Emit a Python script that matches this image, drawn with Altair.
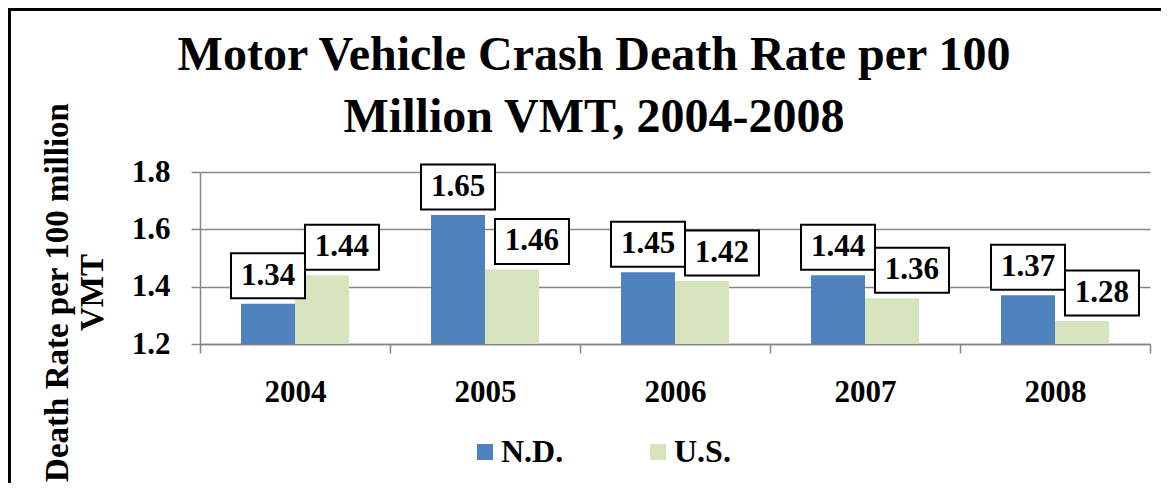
import altair as alt
import pandas as pd

# ---- data ----
years = ["2004", "2005", "2006", "2007", "2008"]
nd_values = [1.34, 1.65, 1.45, 1.44, 1.37]
us_values = [1.44, 1.46, 1.42, 1.36, 1.28]
series = ["N.D.", "U.S."]
colors = ["#4F81BD", "#D7E4BD"]
y_ticks = [1.2, 1.4, 1.6, 1.8]
y_domain = [1.2, 1.8]
title_lines = ["Motor Vehicle Crash Death Rate per 100", "Million VMT, 2004-2008"]
y_title_lines = ["Death Rate per 100 million", "VMT"]

rows = []
for i, yr in enumerate(years):
    rows.append({"year": yr, "series": series[0], "value": nd_values[i]})
    rows.append({"year": yr, "series": series[1], "value": us_values[i]})
df = pd.DataFrame(rows)

FONT = "Liberation Serif"
GRAY = "#868686"

# ---- style constants ----
W, H = 950, 172
BOX_W, BOX_H = 74, 45
LABEL_DY = -28


def box_path(dx_px):
    s = BOX_W / 2.0
    hx = 1.0
    hy = (BOX_H / 2.0) / s
    ox = dx_px / s
    return f"M{-hx+ox:.4f},{-hy:.4f}H{hx+ox:.4f}V{hy:.4f}H{-hx+ox:.4f}Z"


x_enc = alt.X(
    "year:N",
    sort=years,
    scale=alt.Scale(paddingInner=0, paddingOuter=0),
    axis=alt.Axis(
        title=None,
        labelAngle=0,
        tickBand="extent",
        tickSize=9,
        tickColor=GRAY,
        domainColor=GRAY,
        domainWidth=1.5,
        tickWidth=1.5,
        labelPadding=24,
        labelFontSize=31,
        grid=False,
    ),
)
xo_enc = alt.XOffset(
    "series:N", sort=series, scale=alt.Scale(paddingInner=0, paddingOuter=0.76)
)
y_enc = alt.Y(
    "value:Q",
    scale=alt.Scale(domain=y_domain, zero=False, nice=False),
    axis=alt.Axis(
        values=y_ticks,
        format=".1f",
        tickSize=9,
        tickColor=GRAY,
        tickWidth=1.5,
        domainColor=GRAY,
        domainWidth=1.5,
        grid=True,
        gridColor=GRAY,
        gridWidth=1.5,
        labelPadding=21,
        labelFontSize=31,
        title=y_title_lines,
        titleFontSize=33,
        titleLineHeight=35,
        titleX=-133,
        titleY=120,
        titleAngle=270,
        titleAlign="center",
        titleBaseline="alphabetic",
    ),
)

bars = (
    alt.Chart(df)
    .mark_bar()
    .encode(
        x=x_enc,
        xOffset=xo_enc,
        y=y_enc,
        y2=alt.datum(y_domain[0]),
        color=alt.Color(
            "series:N",
            sort=series,
            scale=alt.Scale(domain=series, range=colors),
            legend=alt.Legend(
                title=None,
                orient="none",
                legendX=269,
                legendY=264,
                direction="horizontal",
                symbolType="square",
                symbolSize=256,
                symbolStrokeWidth=0,
                labelFont=FONT,
                labelFontSize=32,
                labelFontWeight="bold",
                labelColor="black",
                labelOffset=0,
                columnPadding=78,
                padding=0,
            ),
        ),
    )
)

label_layers = []
for s, dx in [(series[0], 0), (series[1], 20)]:
    src = alt.Chart(df).transform_filter(alt.datum.series == s)
    enc = dict(
        x=alt.X("year:N", sort=years),
        xOffset=alt.XOffset("series:N", sort=series),
        y=alt.Y("value:Q"),
    )
    box = src.mark_point(
        shape=box_path(dx),
        size=BOX_W * BOX_W,
        filled=True,
        fill="white",
        stroke="black",
        strokeWidth=2,
        opacity=1,
        yOffset=LABEL_DY,
    ).encode(**enc)
    txt = src.mark_text(
        font=FONT,
        fontSize=31,
        fontWeight="bold",
        color="black",
        dx=dx,
        dy=LABEL_DY,
        baseline="middle",
        align="center",
    ).encode(**enc, text=alt.Text("value:Q", format=".2f"))
    label_layers += [box, txt]

one = pd.DataFrame({"k": [0]})
title = alt.Chart(one).mark_text(
    text=title_lines,
    font=FONT,
    fontSize=48,
    fontWeight="bold",
    color="black",
    align="center",
    baseline="alphabetic",
    lineHeight=62,
).encode(x=alt.value(394), y=alt.value(-102))

frame = alt.Chart(one).mark_rect(
    filled=False, stroke="black", strokeWidth=3, fillOpacity=0
).encode(
    x=alt.value(-190.5), x2=alt.value(1000), y=alt.value(-162.5), y2=alt.value(340)
)

chart = (
    alt.layer(frame, bars, *label_layers, title)
    .properties(
        width=W,
        height=H,
        autosize=alt.AutoSizeParams(type="none"),
        padding={"left": 192, "top": 164, "right": 11, "bottom": 139},
    )
    .configure_view(stroke=None)
    .configure_axis(
        labelFont=FONT,
        labelFontWeight="bold",
        labelColor="black",
        titleFont=FONT,
        titleFontWeight="bold",
        titleColor="black",
    )
)

chart.save("out.html", embed_options={"renderer": "svg", "actions": False})
